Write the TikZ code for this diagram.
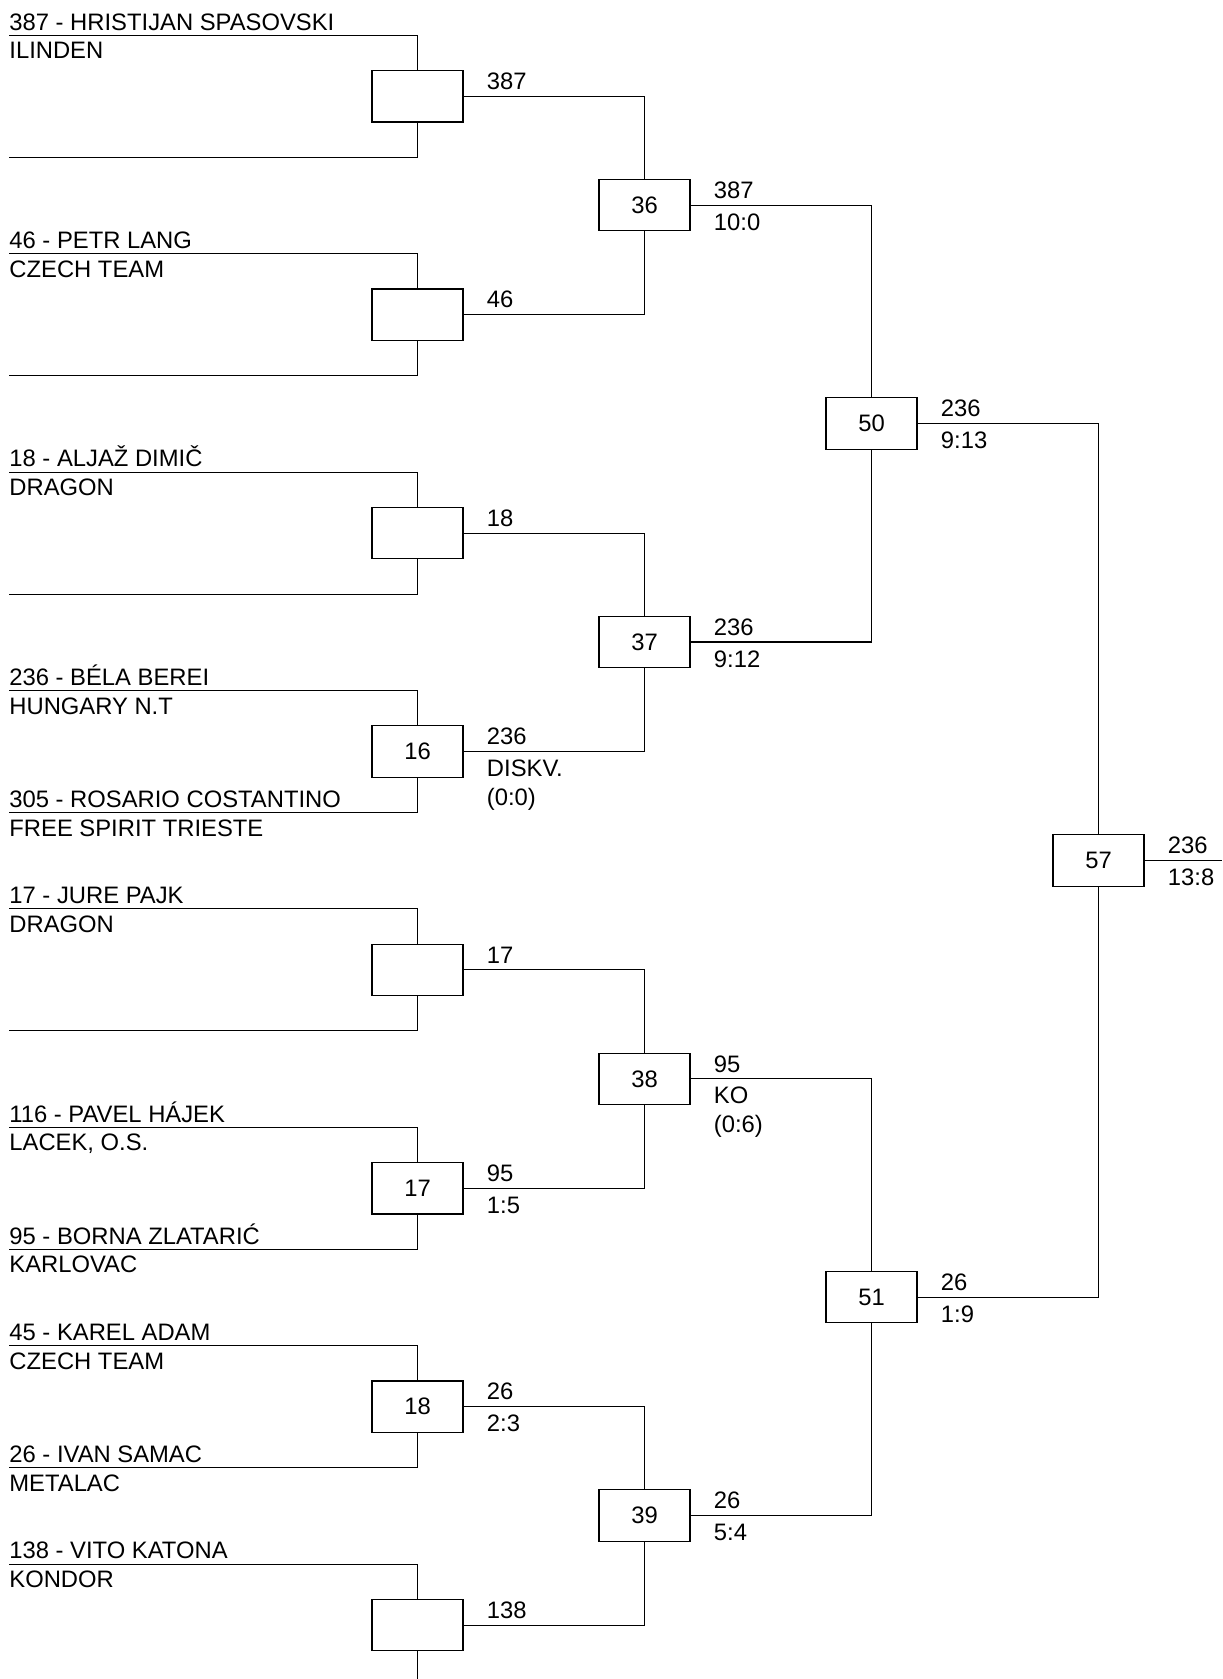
\documentclass[tikz,border=0pt]{standalone}
\usepackage{fontspec}
\setmainfont{Liberation Sans}
\usepackage{tikz}
\usetikzlibrary{
  positioning,
  calc,
}

\begin{document}
\begin{tikzpicture}[
  x=0.5pt, y=-0.5pt,
  font=\fontsize{11.9}{14.5}\selectfont,
  every node/.style={inner sep=0pt},
  wire/.style={line width=0.55pt},
  match/.style={draw, line width=0.55pt, minimum width=45.5pt, minimum height=25.7pt},
  player/.style={anchor=base west},
  winner/.style={anchor=base west},
  score/.style={anchor=north west, align=left},
]

\clip (0,0) rectangle (1222,1679);

%% first round
\foreach \i/\pa/\ca/\pb/\cb/\no/\win/\sc in {
  1/{387 - HRISTIJAN SPASOVSKI}/ILINDEN/{}/{}/{}/387/{},
  2/{46 - PETR LANG}/{CZECH TEAM}/{}/{}/{}/46/{},
  3/{18 - ALJAŽ DIMIČ}/DRAGON/{}/{}/{}/18/{},
  4/{236 - BÉLA BEREI}/{HUNGARY N.T}/{305 - ROSARIO COSTANTINO}/{FREE SPIRIT TRIESTE}/16/236/{DISKV.\\(0:0)},
  5/{17 - JURE PAJK}/DRAGON/{}/{}/{}/17/{},
  6/{116 - PAVEL HÁJEK}/{LACEK, O.S.}/{95 - BORNA ZLATARIĆ}/KARLOVAC/17/95/{1:5},
  7/{45 - KAREL ADAM}/{CZECH TEAM}/{26 - IVAN SAMAC}/METALAC/18/26/{2:3},
  8/{138 - VITO KATONA}/KONDOR/{}/{}/{}/138/{}%
}{
  \pgfmathsetmacro\ya{35.3+218.4*(\i-1)}
  \pgfmathsetmacro\yb{\ya+122}
  \coordinate (a\i) at (9,\ya);
  \coordinate (b\i) at (9,\yb);
  \node[match] (m\i) at (417.5,\ya+61) {\no};
  \draw[wire] (a\i) -| (m\i.north);
  \draw[wire] (b\i) -| (m\i.south);
  \node[player] (pa\i) at ([yshift=2.6pt]a\i) {\pa};
  \node[player] (ca\i) at ([yshift=-11.8pt]a\i) {\ca};
  \node[player] (pb\i) at ([yshift=2.6pt]b\i) {\pb};
  \node[player] (cb\i) at ([yshift=-11.8pt]b\i) {\cb};
  \node[winner] (w\i) at ([xshift=11.5pt,yshift=3.4pt]m\i.east) {\win};
  \node[score] (s\i) at ([xshift=11.5pt,yshift=-4pt]m\i.east) {\sc};
}

%% second round
\node[match] (q1) at (644.5,205.2) {36};
\node[match] (q2) at (644.5,642.0) {37};
\node[match] (q3) at (644.5,1078.8) {38};
\node[match] (q4) at (644.5,1515.6) {39};

\foreach \k/\u/\v in {1/1/2, 2/3/4, 3/5/6, 4/7/8}{
  \draw[wire] (m\u.east) -| (q\k.north);
  \draw[wire] (m\v.east) -| (q\k.south);
}

\node[winner] (wq1) at ([xshift=11.5pt,yshift=3.4pt]q1.east) {387};
\node[score]  (sq1) at ([xshift=11.5pt,yshift=-4pt]q1.east) {10:0};
\node[winner] (wq2) at ([xshift=11.5pt,yshift=3.4pt]q2.east) {236};
\node[score]  (sq2) at ([xshift=11.5pt,yshift=-4pt]q2.east) {9:12};
\node[winner] (wq3) at ([xshift=11.5pt,yshift=3.4pt]q3.east) {95};
\node[score]  (sq3) at ([xshift=11.5pt,yshift=-4pt]q3.east) {KO\\(0:6)};
\node[winner] (wq4) at ([xshift=11.5pt,yshift=3.4pt]q4.east) {26};
\node[score]  (sq4) at ([xshift=11.5pt,yshift=-4pt]q4.east) {5:4};

%% semifinals
\node[match] (r1) at (871.5,423.6) {50};
\node[match] (r2) at (871.5,1297.2) {51};

\draw[wire] (q1.east) -| (r1.north);
\draw[wire] (q2.east) -| (r1.south);
\draw[wire] (q3.east) -| (r2.north);
\draw[wire] (q4.east) -| (r2.south);

\node[winner] (wr1) at ([xshift=11.5pt,yshift=3.4pt]r1.east) {236};
\node[score]  (sr1) at ([xshift=11.5pt,yshift=-4pt]r1.east) {9:13};
\node[winner] (wr2) at ([xshift=11.5pt,yshift=3.4pt]r2.east) {26};
\node[score]  (sr2) at ([xshift=11.5pt,yshift=-4pt]r2.east) {1:9};

%% final
\node[match] (f) at (1098.5,860.4) {57};
\draw[wire] (r1.east) -| (f.north);
\draw[wire] (r2.east) -| (f.south);

\coordinate (out) at (1222,860.4);
\draw[wire] (f.east) -- (out);
\node[winner] (wf) at ([xshift=11.5pt,yshift=3.4pt]f.east) {236};
\node[score]  (sf) at ([xshift=11.5pt,yshift=-4pt]f.east) {13:8};

\end{tikzpicture}
\end{document}
